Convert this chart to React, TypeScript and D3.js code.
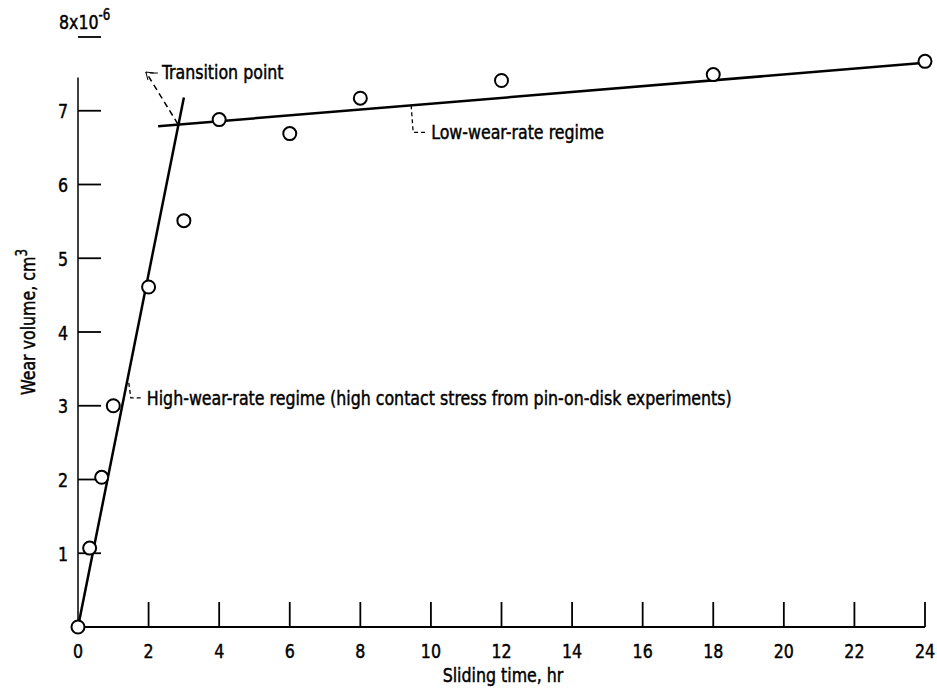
import React from "react";
import * as d3 from "d3";

const times = [0, 0.33, 0.67, 1, 2, 3, 4, 6, 8, 12, 18, 24];
const volumes = [0, 1.07, 2.03, 3.0, 4.61, 5.51, 6.88, 6.69, 7.17, 7.41, 7.49, 7.67];
const highLine: [number, number][] = [[0, 0], [3.0, 7.18]];
const lowLine: [number, number][] = [[2.27, 6.79], [24, 7.65]];
const transitionPoint: [number, number] = [2.83, 6.82];
const xTicks = [2, 4, 6, 8, 10, 12, 14, 16, 18, 20, 22, 24];
const xTickLabels = ["0", "2", "4", "6", "8", "10", "12", "14", "16", "18", "20", "22", "24"];
const yTicks = [1, 2, 3, 4, 5, 6, 7];

const W = 937, H = 689;
const FONT = "'DejaVu Sans Condensed', 'Liberation Sans Narrow', 'DejaVu Sans', sans-serif";
const SX = 0.88;
const FS = 20;

function T(props: { x: number; y: number; anchor?: string; rotate?: number; children: React.ReactNode; size?: number }) {
  const { x, y, anchor = "start", rotate = 0, children, size = FS } = props;
  return (
    <g transform={`translate(${x},${y}) rotate(${rotate}) scale(${SX},1)`}>
      <text
        x={0}
        y={0}
        textAnchor={anchor}
        fontFamily={FONT}
        fontSize={size}
        fontStretch="condensed"
        fill="#000"
        stroke="#000"
        strokeWidth={0.45}
      >
        {children}
      </text>
    </g>
  );
}

export default function App() {
  const x = d3.scaleLinear().domain([0, 24]).range([78, 925]);
  const y = d3.scaleLinear().domain([0, 8]).range([627, 37]);
  const line = d3.line<[number, number]>().x(d => x(d[0])).y(d => y(d[1]));

  const tp = [x(transitionPoint[0]), y(transitionPoint[1])];
  const tipX = tp[0] - 32, tipY = tp[1] - 52;

  const lowX = 9.44;
  const lowV = lowLine[0][1] + (lowX - lowLine[0][0]) * (lowLine[1][1] - lowLine[0][1]) / (lowLine[1][0] - lowLine[0][0]);
  const lx = x(lowX), ly = y(lowV);

  const highV = 3.31;
  const hx = x(highV * highLine[1][0] / highLine[1][1]), hy = y(highV);

  return (
    <svg width={W} height={H} style={{ position: "absolute", left: 0, top: 0, background: "#fff" }}>
      {/* axes */}
      <line x1={x(0)} y1={y(0)} x2={x(24)} y2={y(0)} stroke="#000" strokeWidth={2} />
      <line x1={x(0)} y1={y(0)} x2={x(0)} y2={y(7.45)} stroke="#000" strokeWidth={1.5} />
      {xTicks.map(t => (
        <line key={"xt" + t} x1={x(t)} x2={x(t)} y1={y(0)} y2={y(0) - 25} stroke="#000" strokeWidth={1.8} />
      ))}
      {xTickLabels.map((l, i) => (
        <T key={"xl" + l} x={x(i * 2)} y={y(0) + 31} anchor="middle">{l}</T>
      ))}
      {yTicks.map(t => (
        <g key={"yt" + t}>
          <line x1={x(0)} x2={x(0) + 23} y1={y(t)} y2={y(t)} stroke="#000" strokeWidth={1.8} />
          <T x={x(0) - 10} y={y(t) + 7.5} anchor="end">{t}</T>
        </g>
      ))}
      <line x1={x(0)} x2={x(0) + 23} y1={y(8)} y2={y(8)} stroke="#000" strokeWidth={1.8} />
      <T x={x(0) - 19} y={y(8) - 8}>8x10<tspan dy={-9} fontSize={15}>-6</tspan></T>

      <T x={503} y={682} anchor="middle">Sliding time, hr</T>
      <T x={35} y={322} anchor="middle" rotate={-90}>
        Wear volume, cm<tspan dy={-8} fontSize={15}>3</tspan>
      </T>

      {/* fit lines */}
      <path d={line(highLine) || ""} stroke="#000" strokeWidth={2.5} fill="none" />
      <path d={line(lowLine) || ""} stroke="#000" strokeWidth={2.5} fill="none" />

      {/* transition leader */}
      <line x1={tp[0]} y1={tp[1]} x2={tipX} y2={tipY} stroke="#000" strokeWidth={1.5} strokeDasharray="6,4" />
      <path d={`M${tipX + 2},${tipY + 8} L${tipX},${tipY} L${tipX + 8},${tipY + 1}`} stroke="#000" strokeWidth={1} fill="none" />
      <line x1={tipX + 4} y1={tipY + 1} x2={tipX + 12} y2={tipY + 1} stroke="#000" strokeWidth={1} />
      <T x={tipX + 16} y={tipY + 7}>Transition point</T>

      {/* low-wear leader */}
      <path d={`M${lx},${ly} L${lx + 2},${ly + 27} L${lx + 16},${ly + 27}`} stroke="#000" strokeWidth={1.3} strokeDasharray="4,3" fill="none" />
      <T x={lx + 20} y={ly + 34}>Low-wear-rate regime</T>

      {/* high-wear leader */}
      <path d={`M${hx + 2},${hy} L${hx + 4},${hy + 15} L${hx + 15},${hy + 15}`} stroke="#000" strokeWidth={1.3} strokeDasharray="4,3" fill="none" />
      <T x={hx + 20} y={hy + 22}>High-wear-rate regime (high contact stress from pin-on-disk experiments)</T>

      {/* data points */}
      {times.map((t, i) => (
        <circle key={"p" + i} cx={x(t)} cy={y(volumes[i])} r={6.5} fill="#fff" stroke="#000" strokeWidth={2} />
      ))}
    </svg>
  );
}
